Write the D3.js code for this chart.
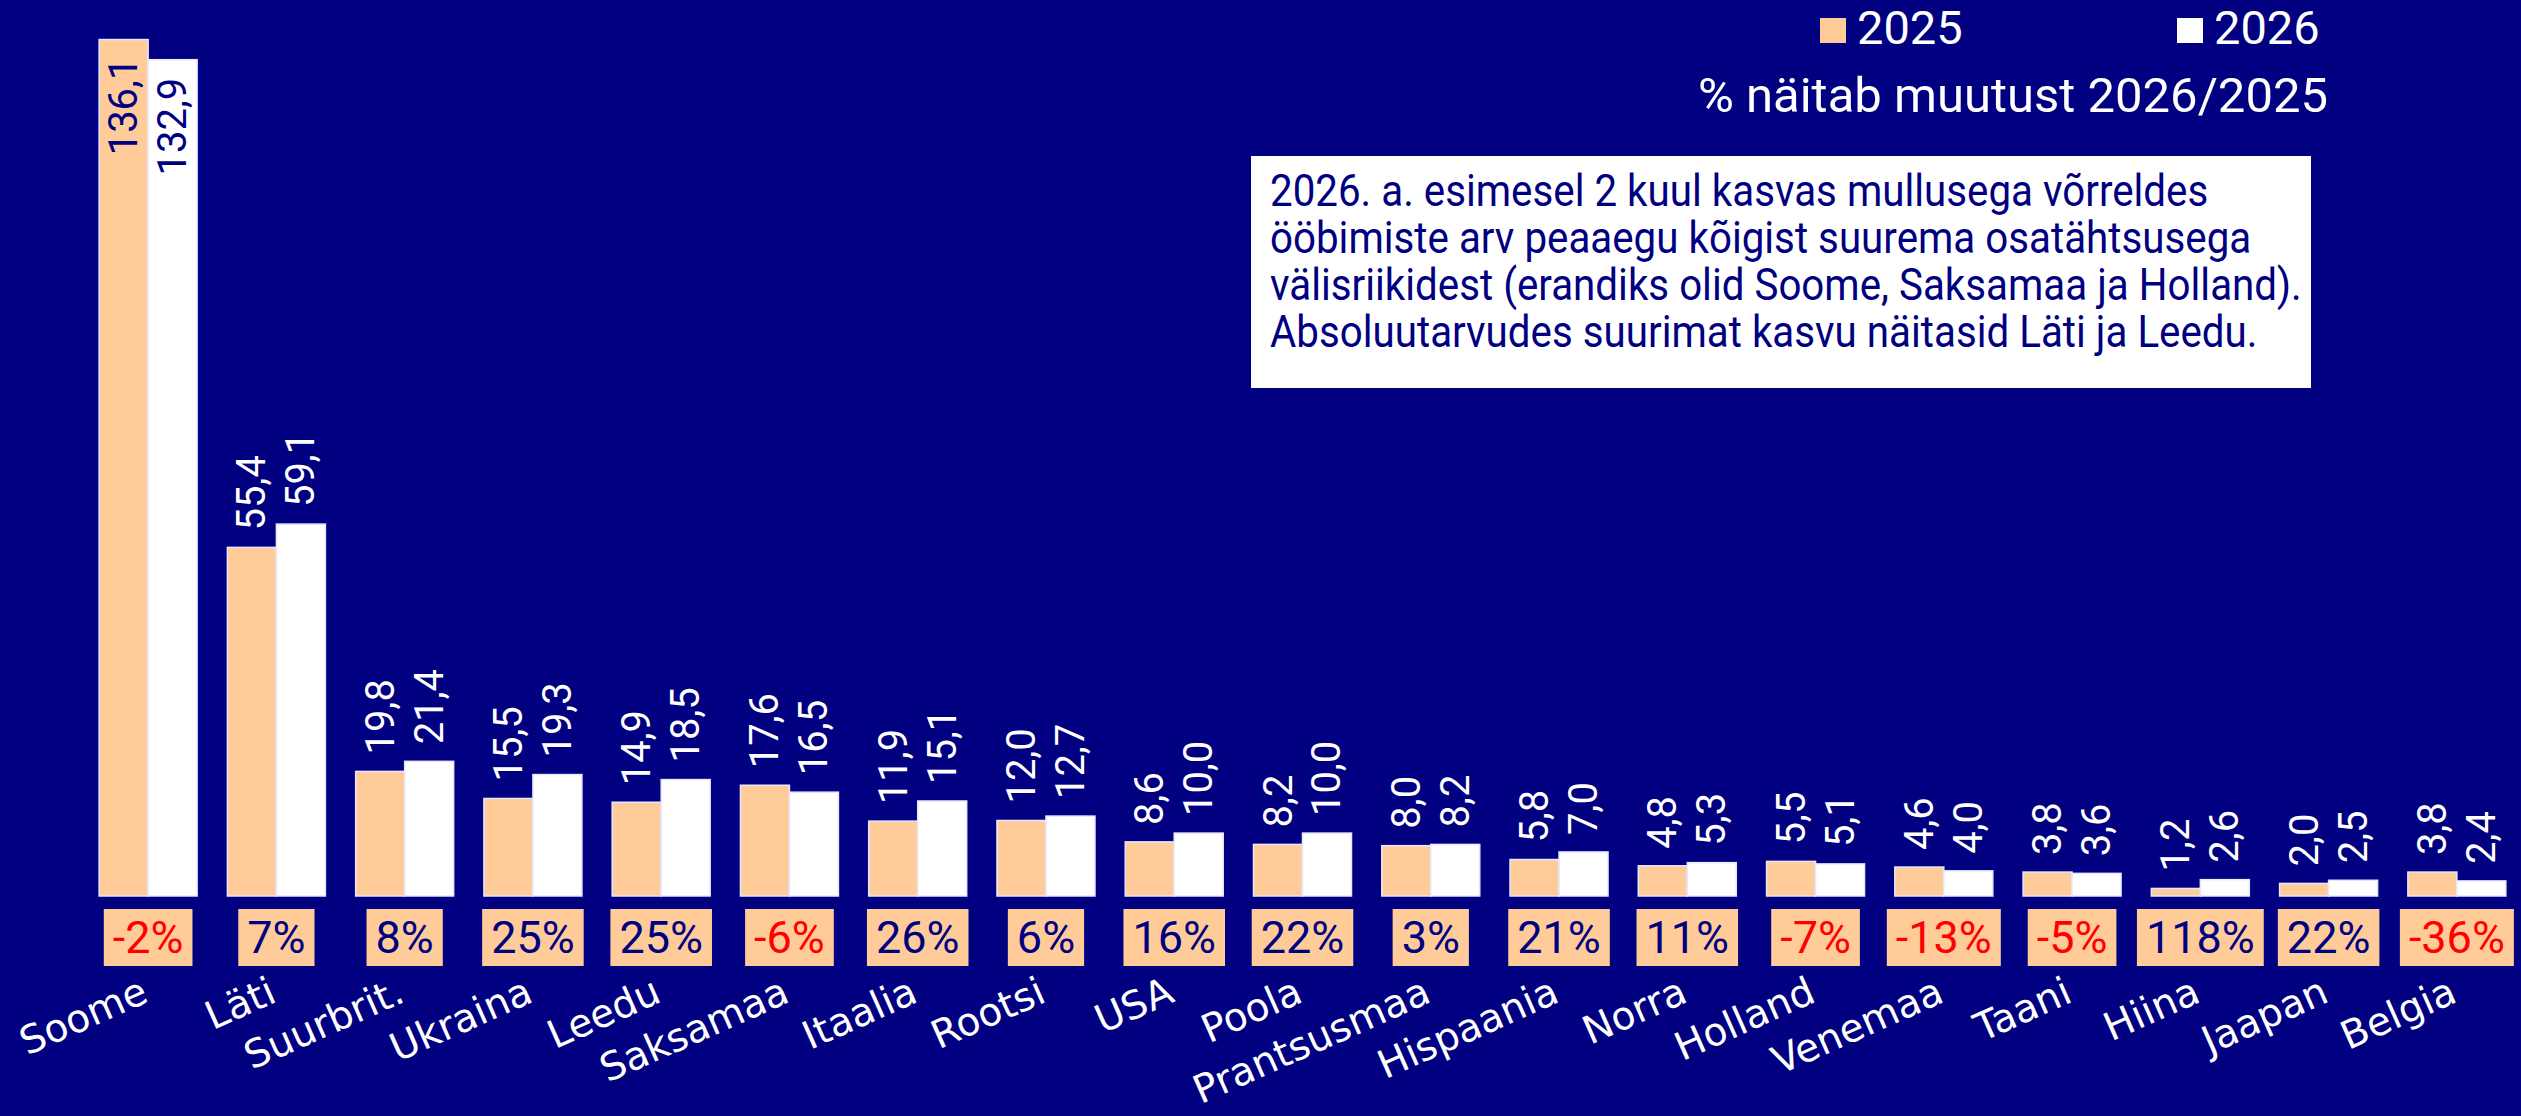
<!DOCTYPE html>
<html>
<head>
<meta charset="utf-8">
<script src="https://cdn.jsdelivr.net/npm/d3@7"></script>
<style>
  html, body { margin: 0; padding: 0; background: #000080; }
  #root { width: 2521px; height: 1116px; }
</style>
</head>
<body>
<div id="root"></div>
<script>
const categories = ['Soome', 'Läti', 'Suurbrit.', 'Ukraina', 'Leedu', 'Saksamaa', 'Itaalia', 'Rootsi', 'USA', 'Poola',
  'Prantsusmaa', 'Hispaania', 'Norra', 'Holland', 'Venemaa', 'Taani', 'Hiina', 'Jaapan', 'Belgia'];
const values2025 = [136.1, 55.4, 19.8, 15.5, 14.9, 17.6, 11.9, 12.0, 8.6, 8.2, 8.0, 5.8, 4.8, 5.5, 4.6, 3.8, 1.2, 2.0, 3.8];
const values2026 = [132.9, 59.1, 21.4, 19.3, 18.5, 16.5, 15.1, 12.7, 10.0, 10.0, 8.2, 7.0, 5.3, 5.1, 4.0, 3.6, 2.6, 2.5, 2.4];
const changes = [-2, 7, 8, 25, 25, -6, 26, 6, 16, 22, 3, 21, 11, -7, -13, -5, 118, 22, -36];
const seriesNames = ['2025', '2026'];
const subtitle = '% näitab muutust 2026/2025';
const noteLines = [
  '2026. a. esimesel 2 kuul kasvas mullusega võrreldes',
  'ööbimiste arv peaaegu kõigist suurema osatähtsusega',
  'välisriikidest (erandiks olid Soome, Saksamaa ja Holland).',
  'Absoluutarvudes suurimat kasvu näitasid Läti ja Leedu.'
];

const app = (function(d3) {

  const width = 2521;
  const height = 1116;
  const navy = '#000080';
  const peach = '#ffcc99';
  const colors = [peach, '#ffffff'];
  const numFont = 'Roboto, "Noto Sans", sans-serif';

  const fmt = (v) => d3.format('.1f')(v).replace('.', ',');

  function render() {
    const svg = d3.select('#root')
      .append('svg')
        .attr('width', width)
        .attr('height', height);

    svg.append('rect')
      .attr('width', width)
      .attr('height', height)
      .attr('fill', navy);

    const data = categories.map((c, i) => ({
      cat: c,
      vals: [values2025[i], values2026[i]],
      change: changes[i]
    }));

    const xScale = d3.scaleBand()
      .domain(categories)
      .range([84, 2521])
      .paddingInner(0.236)
      .paddingOuter(0.118);

    const xSub = d3.scaleBand()
      .domain(seriesNames)
      .range([0, xScale.bandwidth()]);

    const yScale = d3.scaleLinear()
      .domain([0, 140])
      .range([896, 15]);

    const groups = svg.selectAll('.group')
      .data(data)
    .enter().append('g')
      .attr('class', 'group')
      .attr('transform', (d) => `translate(${xScale(d.cat)}, 0)`);

    const bars = groups.selectAll('.bar')
      .data((d) => d.vals.map((v, j) => ({ v: v, s: seriesNames[j], j: j })))
    .enter();

    bars.append('rect')
      .attr('x', (d) => xSub(d.s))
      .attr('width', xSub.bandwidth())
      .attr('y', (d) => yScale(d.v))
      .attr('height', (d) => yScale(0) - yScale(d.v))
      .attr('fill', (d) => colors[d.j])
      .attr('stroke', '#e6e6ff')
      .attr('stroke-width', 1.5);

    // value labels, rotated; the tallest ones sit inside the bar
    bars.append('text')
      .attr('transform', (d) => {
        const cx = xSub(d.s) + xSub.bandwidth() / 2;
        const inside = d.v > 100;
        const y = inside ? yScale(d.v) + 18 : yScale(d.v) - 17;
        return `translate(${cx}, ${y}) rotate(-90)`;
      })
      .attr('text-anchor', (d) => d.v > 100 ? 'end' : 'start')
      .attr('dominant-baseline', 'central')
      .attr('font-family', numFont)
      .attr('font-size', 40)
      .attr('fill', (d) => d.v > 100 ? navy : '#ffffff')
      .text((d) => fmt(d.v));

    // change boxes
    const boxes = svg.selectAll('.chg')
      .data(data)
    .enter().append('g')
      .attr('class', 'chg')
      .attr('transform', (d) => `translate(${xScale(d.cat) + xScale.bandwidth() / 2}, 0)`);

    const chgText = boxes.append('text')
      .attr('y', 953)
      .attr('text-anchor', 'middle')
      .attr('font-family', numFont)
      .attr('font-size', 45)
      .attr('fill', (d) => d.change < 0 ? '#ff0000' : navy)
      .text((d) => `${d.change}%`);

    chgText.each(function() {
      const bb = this.getBBox();
      d3.select(this.parentNode).insert('rect', 'text')
        .attr('x', bb.x - 9)
        .attr('width', bb.width + 18)
        .attr('y', 909)
        .attr('height', 57)
        .attr('fill', peach);
    });

    // category labels
    svg.selectAll('.cat')
      .data(data)
    .enter().append('text')
      .attr('class', 'cat')
      .attr('transform', (d) => `translate(${xScale(d.cat) + xScale.bandwidth() / 2 + 2}, 1001) rotate(-24)`)
      .attr('text-anchor', 'end')
      .attr('font-family', '"DejaVu Sans", Verdana, sans-serif')
      .attr('font-size', 39)
      .attr('fill', '#ffffff')
      .text((d) => d.cat);

    // legend
    const legendX = [1820, 2177];
    seriesNames.forEach((s, i) => {
      svg.append('rect')
        .attr('x', legendX[i])
        .attr('y', 18)
        .attr('width', 26)
        .attr('height', 25)
        .attr('fill', colors[i]);
      svg.append('text')
        .attr('x', legendX[i] + 37)
        .attr('y', 44)
        .attr('font-family', numFont)
        .attr('font-size', 47)
        .attr('fill', '#ffffff')
        .text(s);
    });

    svg.append('text')
      .attr('x', 2328)
      .attr('y', 112)
      .attr('text-anchor', 'end')
      .attr('font-family', numFont)
      .attr('font-size', 49)
      .attr('fill', '#ffffff')
      .text(subtitle);

    // note box
    svg.append('rect')
      .attr('x', 1251)
      .attr('y', 156)
      .attr('width', 1060)
      .attr('height', 232)
      .attr('fill', '#ffffff');

    // the source uses a narrow face; squeeze the text to the same line width
    const note = svg.append('text')
      .attr('font-family', numFont)
      .attr('font-size', 44)
      .attr('fill', navy);

    note.selectAll('tspan')
      .data(noteLines)
    .enter().append('tspan')
      .attr('x', 0)
      .attr('y', (d, i) => 206 + i * 47)
      .text((d) => d);

    let maxLen = 0;
    note.selectAll('tspan').each(function() {
      maxLen = Math.max(maxLen, this.getComputedTextLength());
    });
    const sx = 1032 / maxLen;
    note.attr('transform', `translate(1270, 0) scale(${sx}, 1)`);
  }

  render();

})(d3);
</script>
</body>
</html>
